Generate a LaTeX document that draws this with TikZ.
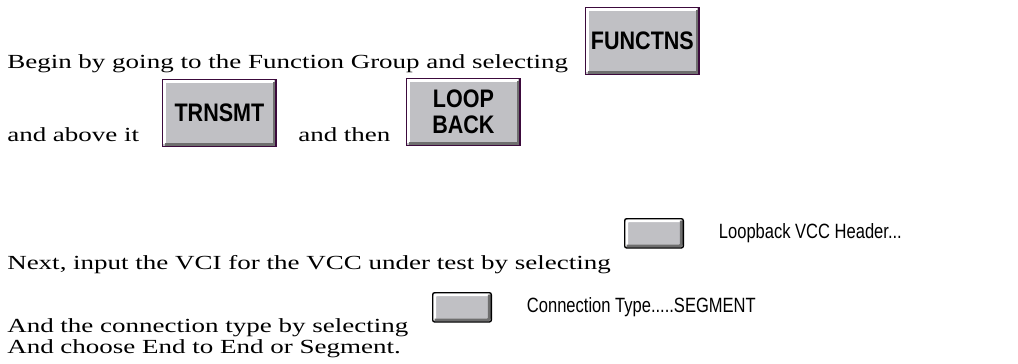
\documentclass[tikz,border=0pt]{standalone}
\usepackage{fontspec}
\setmainfont[FakeStretch=1.35]{Liberation Serif}
\newfontfamily\btnfont[FakeStretch=0.85]{Liberation Sans}
\newfontfamily\dlgfont[FakeStretch=0.8]{Liberation Sans}
\usetikzlibrary{positioning}

\definecolor{btngray}{RGB}{192,192,196}
\definecolor{btnedge}{RGB}{60,10,60}
\definecolor{btnshade}{RGB}{110,110,110}

\tikzset{
  bevel/.style={path picture={
    \draw[white, line width=2.2pt]
      ([shift={(1.5pt,1.5pt)}]path picture bounding box.south west)
      |- ([shift={(-1.5pt,-1.5pt)}]path picture bounding box.north east);
    \draw[btnshade, line width=2.2pt]
      ([shift={(1.5pt,1.5pt)}]path picture bounding box.south west)
      -| ([shift={(-1.5pt,-1.5pt)}]path picture bounding box.north east);
  }},
  bigbtn/.style={bevel, draw=btnedge, line width=1.1pt, fill=btngray,
    minimum width=85pt, minimum height=50pt, inner sep=0pt, align=center,
    font=\btnfont\bfseries\fontsize{19}{21}\selectfont},
  smallbtn/.style={bevel, draw=black, line width=1pt, fill=btngray,
    rounded corners=1.5pt, minimum width=44pt, minimum height=22pt, inner sep=0pt},
  line/.style={anchor=base west, inner sep=0pt,
    font=\fontsize{15}{17}\selectfont},
  dlg/.style={anchor=west, inner sep=0pt,
    font=\dlgfont\fontsize{15.5}{17}\selectfont}
}

\begin{document}
\begin{tikzpicture}[x=0.75pt, y=-0.75pt]
  \useasboundingbox (0,0) rectangle (1018,364);

  % text lines
  \node[line] (begin) at (7,68) {Begin by going to the Function Group and selecting};
  \node[line] (above) at (7,141) {and above it};
  \node[line] (then) at (298,141) {and then};
  \node[line] (next) at (7,269) {Next, input the VCI for the VCC under test by selecting};
  \node[line] (conn) at (7,332) {And the connection type by selecting};
  \node[line] (choose) at (7,353) {And choose End to End or Segment.};

  % function buttons
  \node[bigbtn, anchor=south west] (functns) at (585,75) {FUNCTNS};
  \node[bigbtn, anchor=south west] (trnsmt) at (162,147) {TRNSMT};
  \node[bigbtn, anchor=south west] (loopback) at (406,146) {LOOP\\[-1pt]BACK};

  % dialog buttons
  \node[smallbtn, anchor=north west] (vcibtn) at (624,218) {};
  \node[dlg, right=26pt of vcibtn] (vcilabel) {Loopback VCC Header...};
  \node[smallbtn, anchor=north west] (conbtn) at (432,292) {};
  \node[dlg, right=26pt of conbtn] (conlabel) {Connection Type.....SEGMENT};

\end{tikzpicture}
\end{document}
